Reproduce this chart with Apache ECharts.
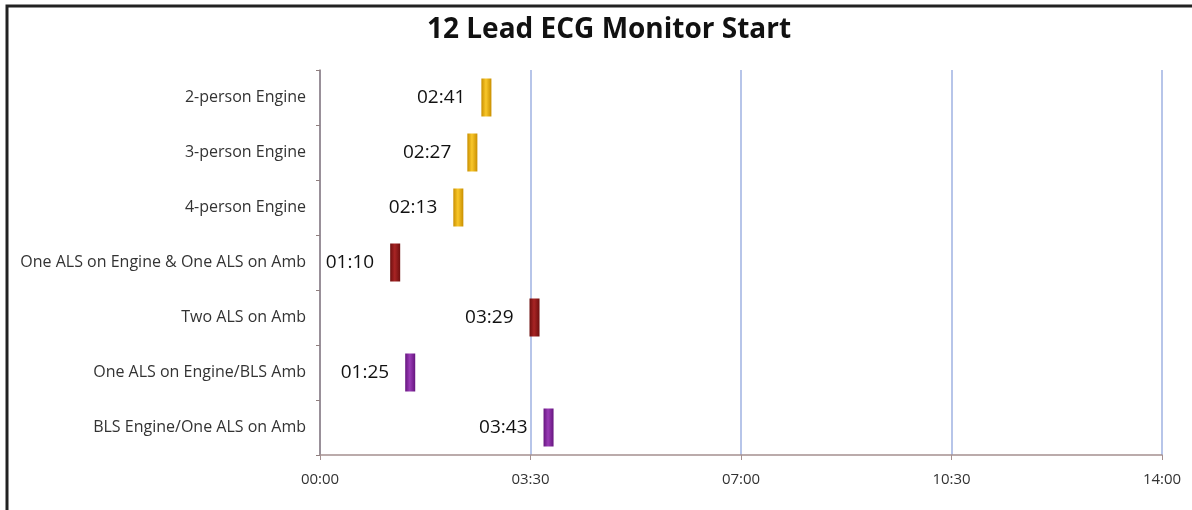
<!DOCTYPE html>
<html>
<head>
<meta charset="utf-8">
<script src="https://cdn.jsdelivr.net/npm/echarts@6/dist/echarts.min.js"></script>
<style>
html, body { margin: 0; padding: 0; background: #fff; }
#main { width: 1192px; height: 510px; }
</style>
</head>
<body>
<div id="main"></div>
<script>
// categories top to bottom
var groups = ['2-person Engine', '3-person Engine', '4-person Engine',
    'One ALS on Engine & One ALS on Amb', 'Two ALS on Amb',
    'One ALS on Engine/BLS Amb', 'BLS Engine/One ALS on Amb'];
// start times in seconds
var startSec = [161, 147, 133, 70, 209, 85, 223];
var colorKey = ['gold', 'gold', 'gold', 'red', 'red', 'purple', 'purple'];
var xTicks = [0, 210, 420, 630, 840];
var markLen = 10; // seconds, width of the marker bar

function mmss(s) {
    var m = Math.floor(s / 60), r = s % 60;
    return (m < 10 ? '0' : '') + m + ':' + (r < 10 ? '0' : '') + r;
}

var palette = {
    gold: ['#c98f00', '#f9c72a', '#c98f00'],
    red: ['#6e0f0f', '#a82424', '#6e0f0f'],
    purple: ['#66157f', '#9a3cb6', '#66157f']
};
function grad(k) {
    var c = palette[k];
    return new echarts.graphic.LinearGradient(0, 0, 1, 0, [
        {offset: 0, color: c[0]},
        {offset: 0.45, color: c[1]},
        {offset: 1, color: c[2]}
    ]);
}

var myChart = echarts.init(document.getElementById('main'));
var option = {
    animation: false,
    title: {
        text: '12 Lead ECG Monitor Start',
        left: 422,
        top: 11,
        textStyle: { fontFamily: 'Open Sans', fontSize: 28, fontWeight: 'bold', color: '#111' }
    },
    graphic: [{
        type: 'rect',
        shape: { x: 7, y: 6, width: 1200, height: 520 },
        style: { fill: 'none', stroke: '#222', lineWidth: 3 },
        silent: true
    }],
    grid: { left: 320, right: 30, top: 70, bottom: 55 },
    xAxis: {
        type: 'value',
        min: 0,
        max: xTicks[xTicks.length - 1],
        interval: xTicks[1],
        axisLine: { show: true, lineStyle: { color: '#a59090', width: 1.5 } },
        axisTick: { show: true, length: 5, lineStyle: { color: '#a59090' } },
        axisLabel: {
            margin: 17,
            fontFamily: 'Open Sans',
            fontSize: 15,
            color: '#333',
            formatter: function (v) { return mmss(v); }
        },
        splitLine: { show: true, lineStyle: { color: '#9fb2e2', width: 1.5 } }
    },
    yAxis: {
        type: 'category',
        inverse: true,
        data: groups,
        axisLine: { show: true, lineStyle: { color: '#8f7f7f', width: 1.5 } },
        axisTick: { show: true, length: 4, lineStyle: { color: '#8f7f7f' } },
        axisLabel: { margin: 14, fontFamily: 'Open Sans', fontSize: 16, color: '#333' }
    },
    series: [
        {
            name: 'base',
            type: 'bar',
            stack: 't',
            barWidth: 38,
            itemStyle: { color: 'transparent' },
            data: startSec
        },
        {
            name: 'start',
            type: 'bar',
            stack: 't',
            barWidth: 38,
            data: startSec.map(function (s, i) {
                return { value: markLen, itemStyle: { color: grad(colorKey[i]) } };
            }),
            label: {
                show: true,
                position: 'left',
                distance: 16,
                fontFamily: 'Open Sans',
                fontSize: 19,
                color: '#111',
                formatter: function (p) { return mmss(startSec[p.dataIndex]); }
            }
        }
    ]
};
myChart.setOption(option);
</script>
</body>
</html>
